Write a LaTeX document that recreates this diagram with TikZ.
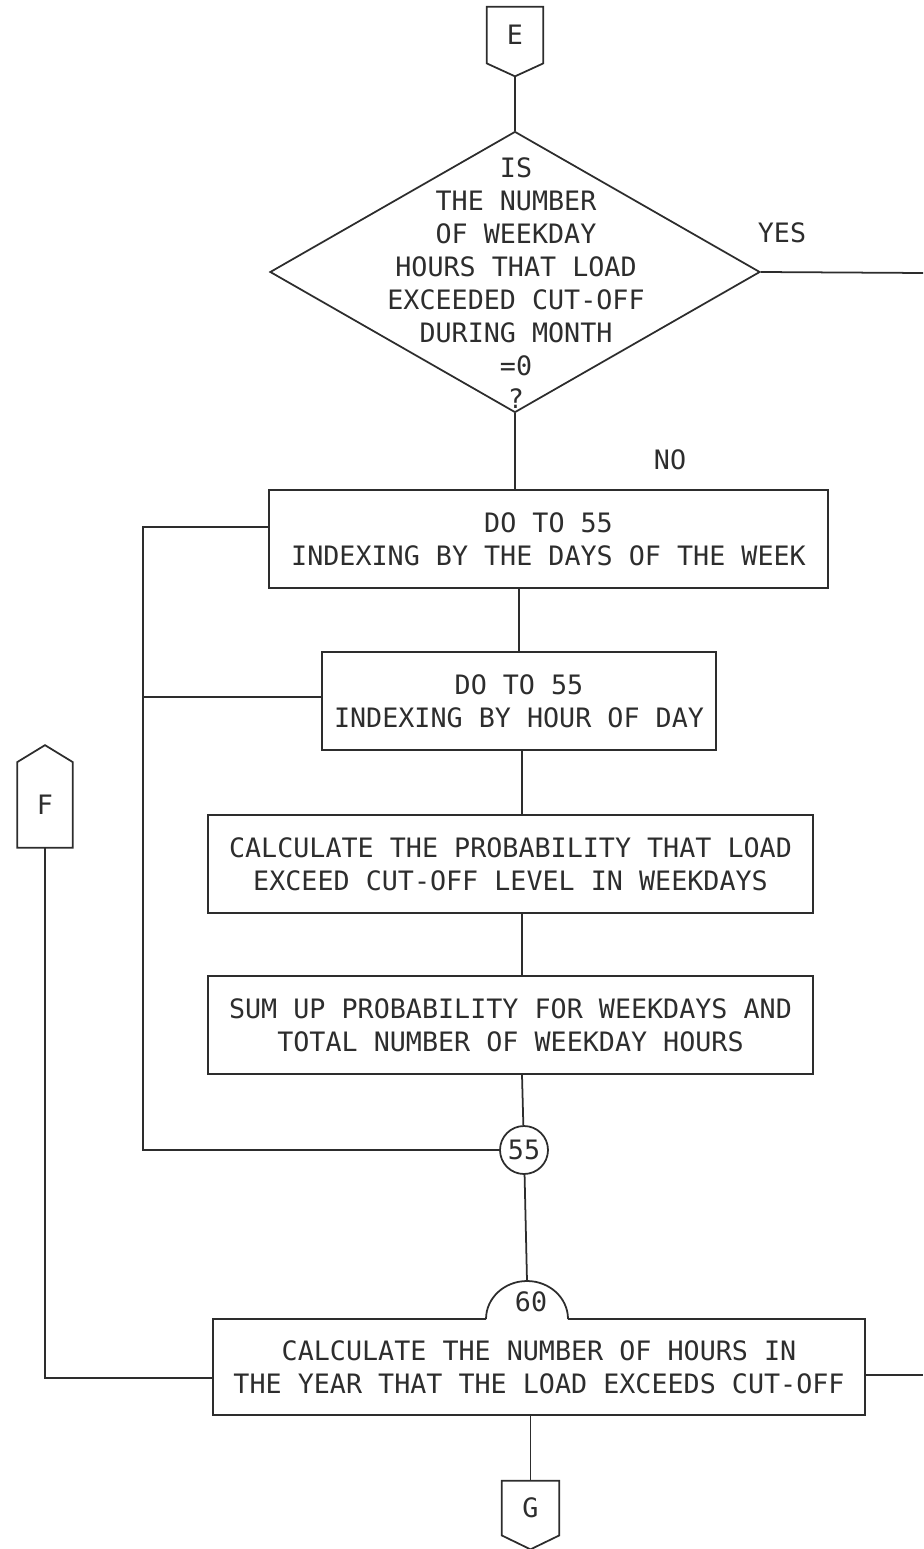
\documentclass[tikz,border=0pt]{standalone}
\usepackage{fontspec}
\setmonofont{DejaVu Sans Mono}
\usetikzlibrary{
    positioning,
    calc,
    shapes.geometric
}
\definecolor{ink}{RGB}{45,45,45}
\tikzset{
  stepbox/.style = {draw=ink, line width=1pt, minimum height=1.96cm,
                    align=center, inner sep=0pt},
  conn/.style    = {minimum width=1.12cm, minimum height=1.12cm, inner sep=0pt},
  lnk/.style     = {line width=1pt, draw=ink}
}

\begin{document}
\begin{tikzpicture}[
        every node/.style={font=\ttfamily\fontsize{15.2}{18.8}\selectfont, text=ink},
        test/.style={diamond, draw=ink, line width=1pt, inner sep=0pt,
                     minimum width=9.8cm, minimum height=5.62cm},
        joint/.style={circle, draw=ink, line width=1pt, inner sep=0pt,
                      minimum size=0.96cm}
      ]
        \useasboundingbox (0,0) rectangle (18.46,-30.98);
        \coordinate (colx) at (10.44,0);
        \coordinate (rgt)  at (18.46,0);

        % ── ENTRY E ──
        \node[conn] (E) at (10.30,-0.70) {E};
        \coordinate (E_tip) at ($(E.south)+(0,-0.26)$);
        \draw[lnk] (E.north west) -- (E.north east) -- (E.south east)
          -- (E_tip) -- (E.south west) -- cycle;

        % ── TEST ──
        \node[test] (Q) at (10.30,-5.44) {};
        \node[align=center] (Q_txt) at (10.32,-5.66)
          {IS\\THE NUMBER\\OF WEEKDAY\\HOURS THAT LOAD\\EXCEEDED CUT-OFF\\DURING MONTH\\=0\\?};
        \node (yes) at (15.64,-4.66) {YES};
        \node (no)  at (13.40,-9.20) {NO};
        \coordinate (Q_out) at (18.46,-5.46);

        \draw[lnk] (E_tip) -- (Q.north);
        \draw[lnk] (Q.east) -- (Q_out);

        % ── LOOPS ──
        \node[stepbox, minimum width=11.18cm] (B1) at (10.97,-10.78)
          {DO TO 55\\INDEXING BY THE DAYS OF THE WEEK};
        \node[stepbox, minimum width=7.88cm] (B2) at (10.38,-14.02)
          {DO TO 55\\INDEXING BY HOUR OF DAY};
        \node[stepbox, minimum width=12.10cm] (B3) at (10.21,-17.28)
          {CALCULATE THE PROBABILITY THAT LOAD\\EXCEED CUT-OFF LEVEL IN WEEKDAYS};
        \node[stepbox, minimum width=12.10cm] (B4) at (10.21,-20.50)
          {SUM UP PROBABILITY FOR WEEKDAYS AND\\TOTAL NUMBER OF WEEKDAY HOURS};
        \node[joint] (C55) at (10.48,-23.00) {55};

        \draw[lnk] (Q.south) -- (Q.south |- B1.north);
        \draw[lnk] (B1.south -| B2.north) -- (B2.north);
        \draw[lnk] (B2.south -| colx) -- (B3.north -| colx);
        \draw[lnk] (B3.south -| colx) -- (B4.north -| colx);
        \draw[lnk] (B4.south -| colx) -- (C55);

        \coordinate (L) at (2.86,-23.00);
        \draw[lnk] ([yshift=0.24cm]B1.west) -| (L) -- (C55.west);
        \draw[lnk] ([yshift=0.08cm]B2.west) -- ([yshift=0.08cm]B2.west -| L);

        % ── TOTAL ──
        \node[stepbox, minimum width=13.04cm, minimum height=1.92cm] (B5) at (10.78,-27.34)
          {CALCULATE THE NUMBER OF HOURS IN\\THE YEAR THAT THE LOAD EXCEEDS CUT-OFF};
        \coordinate (A_base) at (9.72,-26.38);
        \coordinate (A_top)  at (10.54,-25.62);
        \fill[white] ([yshift=-0.8pt]A_base) arc[start angle=180, end angle=0,
          x radius=0.82cm, y radius=0.78cm] -- cycle;
        \draw[lnk] (A_base) arc[start angle=180, end angle=0,
          x radius=0.82cm, y radius=0.76cm];
        \node (N60) at (10.62,-26.04) {60};
        \draw[lnk] (C55) -- (A_top);

        % ── EXITS F, G ──
        \node[conn, minimum width=1.10cm, minimum height=1.70cm] (F) at (0.90,-16.10) {F};
        \coordinate (F_tip) at ($(F.north)+(0,0.34)$);
        \draw[lnk] (F.south west) -- (F.west |- F.north) -- (F_tip)
          -- (F.east |- F.north) -- (F.south east) -- cycle;
        \draw[lnk] (F.south) |- ([yshift=-0.22cm]B5.west);
        \draw[lnk] ([yshift=-0.16cm]B5.east) -- ([yshift=-0.16cm]B5.east -| rgt);

        \node[conn, minimum width=1.14cm, minimum height=1.08cm] (G) at (10.61,-30.16) {G};
        \coordinate (G_tip) at ($(G.south)+(0,-0.28)$);
        \draw[lnk] (G.north west) -- (G.north east) -- (G.south east)
          -- (G_tip) -- (G.south west) -- cycle;
        \draw[lnk] (G.north |- B5.south) -- (G.north);
      \end{tikzpicture}
\end{document}
